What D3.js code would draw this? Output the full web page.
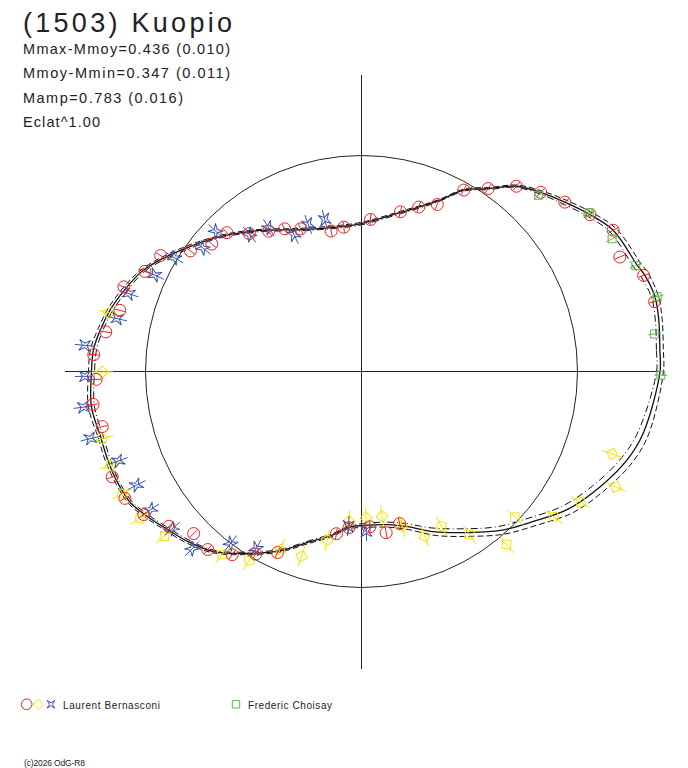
<!DOCTYPE html>
<html>
<head>
<meta charset="utf-8">
<script src="https://cdn.jsdelivr.net/npm/d3@7"></script>
<style>
  body { margin: 0; background: #fff; }
  text { font-family: "Liberation Sans", Arial, sans-serif; fill: #222; }
</style>
</head>
<body>
<svg id="chart"></svg>
<script>
// fitted lightcurve, phase in degrees, radius relative to the mean circle
const fitAngle = [0,4.2,9.9,14.3,18.8,21.1,29.3,34.5,39.8,45,50.1,55.3,60.6,66,76.2,90,98.2,113.2,125.6,133.7,138.8,143.8,150.9,155.9,161.4,166.1,170.9,175.3,180,187.4,194,199.1,204.5,209.6,214.1,219.2,224.3,230.6,237.9,245.7,252.5,260.3,264.9,270.7,279.6,286.5,294.2,303.4,311.2,318.9,326.2,334.3,341.7,347.8];
const fitRadius = [1.382,1.385,1.397,1.402,1.385,1.368,1.336,1.283,1.225,1.173,1.118,1.030,0.964,0.863,0.758,0.685,0.678,0.715,0.803,0.878,0.929,0.981,1.065,1.121,1.163,1.197,1.224,1.245,1.250,1.261,1.245,1.244,1.241,1.230,1.197,1.158,1.126,1.079,0.994,0.910,0.830,0.766,0.725,0.713,0.719,0.749,0.813,0.893,0.978,1.056,1.148,1.228,1.297,1.336];
const fitSpread = [0.016,0.016,0.016,0.016,0.019,0.019,0.016,0.014,0.012,0.009,0.007,0.006,0.006,0.006,0.006,0.006,0.006,0.006,0.006,0.007,0.007,0.009,0.009,0.009,0.012,0.012,0.012,0.014,0.014,0.014,0.012,0.012,0.009,0.009,0.009,0.009,0.009,0.007,0.007,0.007,0.007,0.007,0.007,0.009,0.012,0.014,0.019,0.021,0.023,0.025,0.028,0.028,0.028,0.025];

// observations
const redAngle = [86.6,76.3,70.8,65.6,60.6,55.3,50.1,45.0,39.8,34.5,29.3,23.9,18.8,13.4,97.0,102.2,113.1,118.3,123.5,129.1,134.1,139.6,144.8,150.0,155.2,160.4,165.8,171.2,176.4,181.7,187.0,192.0,202.9,208.2,213.3,218.8,224.0,229.2,234.8,239.9,245.1,261.2,265.4,273.1,278.7,284.1];
const redRadius = [0.705,0.761,0.806,0.849,0.964,1.030,1.118,1.173,1.225,1.283,1.336,1.308,1.380,1.395,0.673,0.665,0.718,0.750,0.779,0.823,0.895,0.910,0.969,1.074,1.105,1.168,1.154,1.198,1.242,1.229,1.252,1.227,1.253,1.243,1.206,1.144,1.080,1.089,1.038,0.977,0.924,0.760,0.726,0.720,0.755,0.726];

const yellowAngle = [166.9,180.1,194.5,200.5,207.1,213.5,219.9,232.7,239.3,245.4,252.0,258.5,265.2,271.8,278.1,284.7,291.0,297.3,303.5,310.0,316.5,322.9,329.2,335.6,341.8];
const yellowRadius = [1.201,1.200,1.240,1.241,1.244,1.231,1.189,1.065,1.018,0.906,0.899,0.797,0.695,0.678,0.677,0.741,0.816,0.806,0.905,1.045,0.979,1.116,1.181,1.292,1.222];

const blueAngle = [136.1,142.1,148.7,155.0,161.5,167.8,174.6,181.0,187.3,193.9,200.2,206.8,213.2,219.7,226.3,232.7,239.2,265.1,271.7,129.3,122.8,116.3,109.9,103.6];
const blueRadius = [0.937,0.931,1.013,1.056,1.136,1.157,1.287,1.281,1.298,1.293,1.200,1.167,1.167,1.139,1.135,1.001,0.954,0.719,0.740,0.819,0.792,0.707,0.724,0.724];

const greenAngle = [44.9,34.9,27.9,21.1,14.2,7.3,359.3];
const greenRadius = [1.156,1.285,1.313,1.361,1.412,1.368,1.386];

const title = "(1503) Kuopio";
const statLines = ["Mmax-Mmoy=0.436 (0.010)", "Mmoy-Mmin=0.347 (0.011)", "Mamp=0.783 (0.016)", "Eclat^1.00"];
const observers = ["Laurent Bernasconi", "Frederic Choisay"];

const width = 688, height = 768;
const cx = 361.5, cy = 371.5;

const svg = d3.select("#chart").attr("width", width).attr("height", height);

const rScale = d3.scaleLinear().domain([0, 1]).range([0, 216]);
// phase counter-clockwise from the right, d3 angles clockwise from the top
const aScale = d3.scaleLinear().domain([0, 360]).range([Math.PI / 2, Math.PI / 2 - 2 * Math.PI]);

const g = svg.append("g").attr("transform", `translate(${cx},${cy})`);

// mean circle and axes
g.append("circle").attr("r", rScale(1)).attr("fill", "none").attr("stroke", "#222").attr("stroke-width", 1);
const axisLen = rScale(1.375);
g.append("line").attr("x1", -axisLen).attr("x2", axisLen).attr("y1", 0).attr("y2", 0)
  .attr("stroke", "#222").attr("shape-rendering", "crispEdges");
g.append("line").attr("y1", -axisLen).attr("y2", axisLen).attr("x1", 0).attr("x2", 0)
  .attr("stroke", "#222").attr("shape-rendering", "crispEdges");

// fitted curve with its envelope
const fit = fitAngle.map((d, i) => ({ a: d, r: fitRadius[i], s: fitSpread[i] }));
const radial = k => d3.lineRadial()
  .angle(d => aScale(d.a))
  .radius(d => rScale(d.r + k * d.s))
  .curve(d3.curveCatmullRomClosed);

g.append("path").attr("d", radial(1)(fit)).attr("fill", "none")
  .attr("stroke", "#111").attr("stroke-width", 1).attr("stroke-dasharray", "6,3");
g.append("path").attr("d", radial(-1)(fit)).attr("fill", "none")
  .attr("stroke", "#111").attr("stroke-width", 1).attr("stroke-dasharray", "7,3,1,3");
g.append("path").attr("d", radial(0)(fit)).attr("fill", "none")
  .attr("stroke", "#111").attr("stroke-width", 1.3);

// marker shapes
const diamond = s => `M0,${-s}L${s},0L0,${s}L${-s},0Z`;
const star = s => { const q = s * 0.4; return `M${-s},${-s}L0,${-q}L${s},${-s}L${q},0L${s},${s}L0,${q}L${-s},${s}L${-q},0Z`; };
const square = s => `M${-s},${-s}H${s}V${s}H${-s}Z`;
const circlePath = s => `M${s},0A${s},${s} 0 1,1 ${-s},0A${s},${s} 0 1,1 ${s},0Z`;

function drawSeries(angles, radii, color, shape, bar, rotate) {
  const data = angles.map((d, i) => ({ a: d, r: radii[i] }));
  const grp = g.append("g");
  // radial error bars
  grp.selectAll("line").data(data).enter().append("line")
    .attr("x1", d => (rScale(d.r) - bar) * Math.sin(aScale(d.a)))
    .attr("y1", d => -(rScale(d.r) - bar) * Math.cos(aScale(d.a)))
    .attr("x2", d => (rScale(d.r) + bar) * Math.sin(aScale(d.a)))
    .attr("y2", d => -(rScale(d.r) + bar) * Math.cos(aScale(d.a)))
    .attr("stroke", color).attr("stroke-width", 1);
  grp.selectAll(".mk").data(data).enter().append("path")
    .attr("class", "mk")
    .attr("transform", d => {
      const x = rScale(d.r) * Math.sin(aScale(d.a));
      const y = -rScale(d.r) * Math.cos(aScale(d.a));
      return `translate(${x},${y})` + (rotate ? ` rotate(${-d.a})` : "");
    })
    .attr("d", shape)
    .attr("fill", "none").attr("stroke", color).attr("stroke-width", 1);
}

drawSeries(yellowAngle, yellowRadius, "#f2e600", diamond(6), 11, true);
drawSeries(blueAngle, blueRadius, "#3a55a8", star(5.5), 10, true);
drawSeries(redAngle, redRadius, "#ee2222", circlePath(6), 5.5, false);
drawSeries(greenAngle, greenRadius, "#5cb84a", square(4), 6.5, false);

// texts
svg.append("text").attr("x", 23).attr("y", 32).attr("font-size", 27)
  .attr("textLength", 209).attr("lengthAdjust", "spacing").text(title);
svg.selectAll(".stat").data(statLines).enter().append("text")
  .attr("class", "stat")
  .attr("x", 23).attr("y", (d, i) => 53.5 + i * 24.5)
  .attr("font-size", 14.5)
  .attr("textLength", (d, i) => [207, 207, 160, 77][i]).attr("lengthAdjust", "spacing")
  .text(d => d);

// legend
const lg = svg.append("g");
lg.append("path").attr("transform", "translate(26.7,704.3)").attr("d", circlePath(5.3))
  .attr("fill", "none").attr("stroke", "#ee2222");
lg.append("path").attr("transform", "translate(38.5,704.3)").attr("d", diamond(5))
  .attr("fill", "none").attr("stroke", "#f2e600");
lg.append("path").attr("transform", "translate(51,704.3)").attr("d", star(3.8))
  .attr("fill", "none").attr("stroke", "#3a55a8");
lg.append("path").attr("transform", "translate(236,704.3)").attr("d", square(3.7))
  .attr("fill", "none").attr("stroke", "#5cb84a");
lg.append("text").attr("x", 63).attr("y", 709).attr("font-size", 10)
  .attr("textLength", 97).attr("lengthAdjust", "spacing").text(observers[0]);
lg.append("text").attr("x", 248).attr("y", 709).attr("font-size", 10)
  .attr("textLength", 84).attr("lengthAdjust", "spacing").text(observers[1]);

svg.append("text").attr("x", 24).attr("y", 765.5).attr("font-size", 8.5)
  .attr("textLength", 61).attr("lengthAdjust", "spacing")
  .text("(c)2026 OdG-R8");
</script>
</body>
</html>
